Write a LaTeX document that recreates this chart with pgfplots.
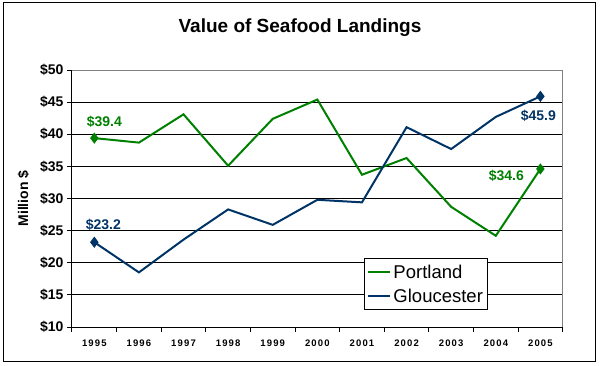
\documentclass[border=0pt]{standalone}
\usepackage{fontspec}
\setmainfont{Liberation Sans}
\usepackage{pgfplots}
\pgfplotsset{compat=1.18}
\definecolor{pgreen}{RGB}{0,128,0}
\definecolor{gblue}{RGB}{0,51,102}
\begin{document}
\begin{tikzpicture}
\useasboundingbox (0pt,0pt) rectangle (600pt,365pt);
\draw[black, line width=1pt] (3pt,3.5pt) rectangle (595pt,362pt);
\node[font=\fontsize{19}{22}\selectfont\bfseries] at (300pt,337pt) {Value of Seafood Landings};
\begin{axis}[at={(72pt,38pt)}, anchor=south west, scale only axis,
  width=490.7pt, height=257pt,
  xmin=-0.5, xmax=10.5, ymin=10, ymax=50,
  axis x line*=bottom, axis y line*=left,
  axis line style={black, line width=1pt, -},
  ytick={10,15,...,50},
  yticklabels={\$10,\$15,\$20,\$25,\$30,\$35,\$40,\$45,\$50},
  xtick={0,...,10},
  xticklabels={1995,1996,1997,1998,1999,2000,2001,2002,2003,2004,2005},
  minor xtick={-0.5,0.5,...,10.5},
  x tick style={draw=none},
  minor x tick style={draw=black, line width=1pt},
  y tick style={draw=black, line width=1pt},
  tick align=outside, major tick length=5pt, minor tick length=5pt,
  ymajorgrids, grid style={black, line width=1pt},
  /pgf/number format/assume math mode=true,
  yticklabel style={font=\fontsize{14}{15}\selectfont\bfseries},
  xticklabel style={font=\fontsize{9.5}{10}\selectfont\bfseries\addfontfeatures{LetterSpace=12}, yshift=-4pt},
  ylabel={Million \$},
  ylabel style={font=\fontsize{14}{15}\selectfont\bfseries, yshift=4pt},
  legend style={at={(0.595,0.267)}, anchor=north west,
    font=\fontsize{18.5}{22}\selectfont, draw=black, line width=1pt,
    inner xsep=3pt, inner ysep=4pt, row sep=5pt},
  legend cell align=left,
  legend image code/.code={\draw[#1, line width=2pt] (0pt,0pt) -- (22pt,0pt);},
  clip=false,
]
\addplot[pgreen, line width=2pt, mark=diamond*, mark size=4pt, mark indices={1,11}, mark options={solid}]
 coordinates {(0,39.4) (1,38.7) (2,43.1) (3,35.1) (4,42.4) (5,45.4) (6,33.7) (7,36.3) (8,28.7) (9,24.2) (10,34.6)};
\addlegendentry{Portland}
\addplot[gblue, line width=2pt, mark=diamond*, mark size=4pt, mark indices={1,11}, mark options={solid}]
 coordinates {(0,23.2) (1,18.5) (2,23.6) (3,28.3) (4,25.9) (5,29.8) (6,29.4) (7,41.1) (8,37.7) (9,42.7) (10,45.9)};
\addlegendentry{Gloucester}
\draw[gray, line width=1pt] (rel axis cs:0,1) -- (rel axis cs:1,1) -- (rel axis cs:1,0);
\node[pgreen, font=\fontsize{14}{16}\selectfont\bfseries, xshift=10pt, yshift=16pt] at (axis cs:0,39.4) {\$39.4};
\node[gblue, font=\fontsize{14}{16}\selectfont\bfseries, xshift=9pt, yshift=17pt] at (axis cs:0,23.2) {\$23.2};
\node[gblue, font=\fontsize{14}{16}\selectfont\bfseries, xshift=-2pt, yshift=-19pt] at (axis cs:10,45.9) {\$45.9};
\node[pgreen, font=\fontsize{14}{16}\selectfont\bfseries, xshift=-34pt, yshift=-7pt] at (axis cs:10,34.6) {\$34.6};
\end{axis}
\end{tikzpicture}
\end{document}
